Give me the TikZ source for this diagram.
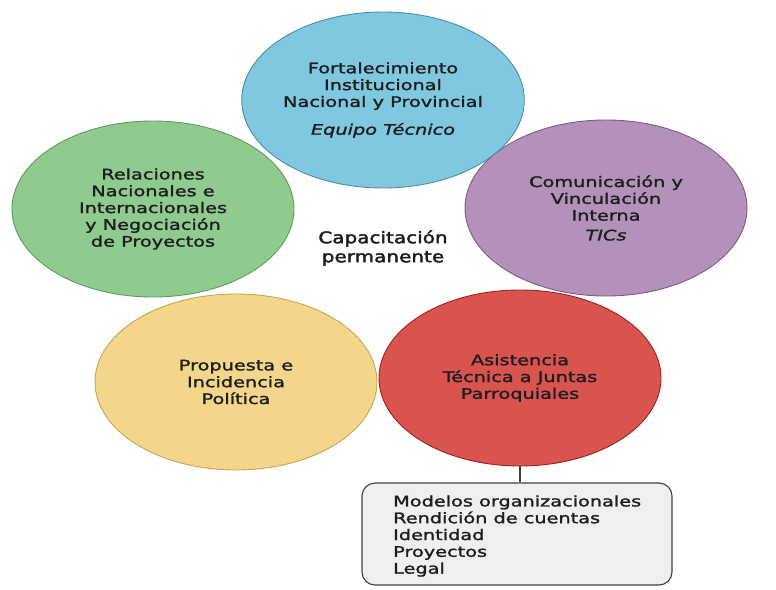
\documentclass[tikz,border=0pt]{standalone}
\usepackage{fontspec}
\setmainfont{DejaVu Sans}[FakeStretch=1.33,FakeBold=1.6]
\newfontfamily\capfont{DejaVu Sans}[FakeStretch=1.25,FakeBold=2.4]
\usetikzlibrary{shapes.geometric}
\definecolor{cblue}{HTML}{80C8E0}
\definecolor{cblueD}{HTML}{4C8EA8}
\definecolor{cgreen}{HTML}{8FCB8F}
\definecolor{cgreenD}{HTML}{5E9C5E}
\definecolor{cpurple}{HTML}{B491BB}
\definecolor{cpurpleD}{HTML}{7D5C84}
\definecolor{cyellow}{HTML}{F4D58C}
\definecolor{cyellowD}{HTML}{C8A64E}
\definecolor{cred}{HTML}{D9534F}
\definecolor{credD}{HTML}{A3201E}
\definecolor{ctext}{HTML}{1E1E1E}
\definecolor{cbox}{HTML}{EFEFEF}
\begin{document}
\begin{tikzpicture}[x=1pt,y=-1pt,
  blob/.style={ellipse,minimum width=282pt,minimum height=176pt,inner sep=0pt,
    line width=0.9pt,align=center,text=ctext,font=\fontsize{14.5}{16.8}\selectfont},
  listbox/.style={draw=black!75,fill=cbox,rounded corners=13pt,line width=1.1pt,
    minimum width=310pt,minimum height=102pt,text=ctext,
    font=\fontsize{14.5}{16.8}\selectfont},
  link/.style={draw=black!75,line width=1.5pt}]
\useasboundingbox (0,0) rectangle (776,589);
\node[blob,fill=cgreen,draw=cgreenD] (green) at (153,209)
  {Relaciones\\Nacionales e\\Internacionales\\y Negociación\\de Proyectos};
\node[blob,fill=cyellow,draw=cyellowD] (yellow) at (236,382)
  {Propuesta e\\Incidencia\\Política};
\node[blob,fill=cred,draw=credD] (red) at (520,378)
  {Asistencia\\Técnica a Juntas\\Parroquiales};
\node[blob,fill=cpurple,draw=cpurpleD] (purple) at (606,208)
  {Comunicación y\\Vinculación\\Interna\\[3pt]\textit{TICs}};
\node[blob,fill=cblue,draw=cblueD] (blue) at (383,100)
  {Fortalecimiento\\Institucional\\Nacional y Provincial\\[11pt]\textit{Equipo Técnico}};
\node[align=center,text=ctext,font=\capfont\fontsize{16}{19}\selectfont] (cap) at (383,248)
  {Capacitación\\permanente};
\node[listbox] (box) at (517,534) {};
\node[anchor=west,align=left,text=ctext,font=\fontsize{14.5}{16.8}\selectfont,inner sep=0pt] (list) at (393,536)
  {Modelos organizacionales\\Rendición de cuentas\\Identidad\\Proyectos\\Legal};
\draw[link] (red.south) -- (red.south |- box.north);
\end{tikzpicture}
\end{document}
